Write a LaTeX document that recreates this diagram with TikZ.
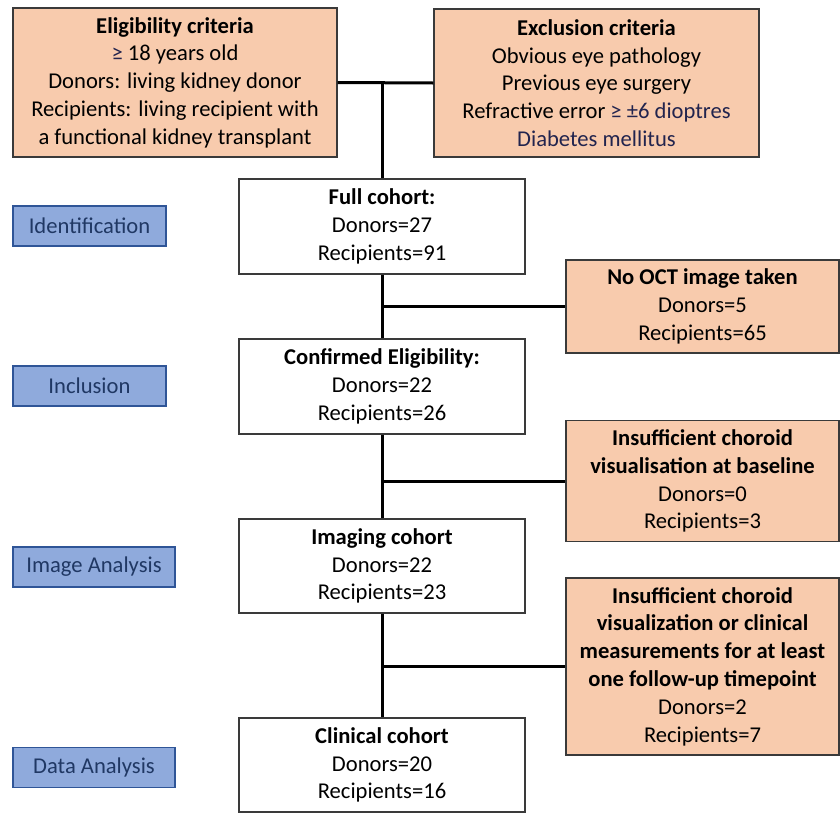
\documentclass[tikz,border=0pt]{standalone}
\usepackage{fontspec}
\setmainfont{Carlito}
\usetikzlibrary{positioning, calc}
\definecolor{ExclOrange}{HTML}{F8CBAD}
\definecolor{StageBlue}{HTML}{8FAADC}
\definecolor{StageEdge}{HTML}{2F5597}
\definecolor{StageText}{HTML}{203864}
\definecolor{BoxEdge}{HTML}{3A3A3A}
\definecolor{CritNavy}{HTML}{22244E}
\newcommand{\flowfont}{\fontsize{11.3}{13.9}\selectfont}
\tikzset{
    cohort/.style={
        draw=BoxEdge,
        fill=white,
        line width=0.7pt,
        minimum width=143pt,
        minimum height=47pt,
        text=black,
        font=\flowfont,
        align=center,
        inner sep=2pt
    },
    excluded/.style={
        draw=BoxEdge,
        fill=ExclOrange,
        line width=0.7pt,
        minimum width=136.5pt,
        text=black,
        font=\flowfont,
        align=center,
        inner sep=2pt
    },
    criteria/.style={
        excluded,
        minimum width=162pt,
        minimum height=74.5pt
    },
    stage/.style={
        draw=StageEdge,
        fill=StageBlue,
        line width=0.7pt,
        minimum width=#1,
        minimum height=20pt,
        text=StageText,
        font=\flowfont,
        align=center,
        inner sep=2pt
    },
    stage/.default=76.5pt,
    link/.style={
        line width=1.5pt,
        black
    }
}

\begin{document}
\begin{tikzpicture}[x=0.5pt, y=-0.5pt]
        \useasboundingbox (0,0) rectangle (840,814);

        % Criteria boxes
        \node[criteria] (elig) at (175,82.5) {\textbf{Eligibility criteria}\\
            {\color{CritNavy}≥} 18 years old\\
            Donors: living kidney donor\\
            Recipients: living recipient with\\
            a functional kidney transplant};
        \node[criteria, minimum width=162.5pt, minimum height=74pt] (excl) at (596.5,83) {\textbf{Exclusion criteria}\\
            Obvious eye pathology\\
            Previous eye surgery\\
            Refractive error {\color{CritNavy}≥ ±6 dioptres}\\
            {\color{CritNavy}Diabetes mellitus}};

        % Cohort boxes
        \node[cohort, minimum height=47.5pt] (full) at (382,226.5) {\textbf{Full cohort:}\\ Donors=27\\ Recipients=91};
        \node[cohort, minimum height=47.5pt] (conf) at (382,386.5) {\textbf{Confirmed Eligibility:}\\ Donors=22\\ Recipients=26};
        \node[cohort] (imag) at (382,566) {\textbf{Imaging cohort}\\ Donors=22\\ Recipients=23};
        \node[cohort] (clin) at (382,765) {\textbf{Clinical cohort}\\ Donors=20\\ Recipients=16};

        % Exclusions
        \node[excluded, minimum height=46.5pt] (nooct) at (702.5,306.5) {\textbf{No OCT image taken}\\ Donors=5\\ Recipients=65};
        \node[excluded, minimum height=60.5pt] (base) at (702.5,481) {\textbf{Insufficient choroid}\\ \textbf{visualisation at baseline}\\ Donors=0\\ Recipients=3};
        \node[excluded, minimum height=88.5pt] (follow) at (702.5,666.5) {\textbf{Insufficient choroid}\\ \textbf{visualization or clinical}\\ \textbf{measurements for at least}\\ \textbf{one follow-up timepoint}\\ Donors=2\\ Recipients=7};

        % Stage labels
        \node[stage] (ident) at (89.5,226) {Identification};
        \node[stage] (incl) at (89.5,386) {Inclusion};
        \node[stage=81pt] (imgan) at (94,567) {Image Analysis};
        \node[stage=81pt] (datan) at (94,767.5) {Data Analysis};

        % Connectors
        \coordinate (top) at (full.north |- elig.east);
        \draw[link] (elig.east) -- (excl.west);
        \draw[link] (top) -- (full.north);
        \draw[link] (full) -- (conf);
        \draw[link] (nooct.west -| full.south) -- (nooct.west);
        \draw[link] (conf) -- (imag);
        \draw[link] (base.west -| conf.south) -- (base.west);
        \draw[link] (imag) -- (clin);
        \draw[link] (follow.west -| imag.south) -- (follow.west);
    \end{tikzpicture}
\end{document}
